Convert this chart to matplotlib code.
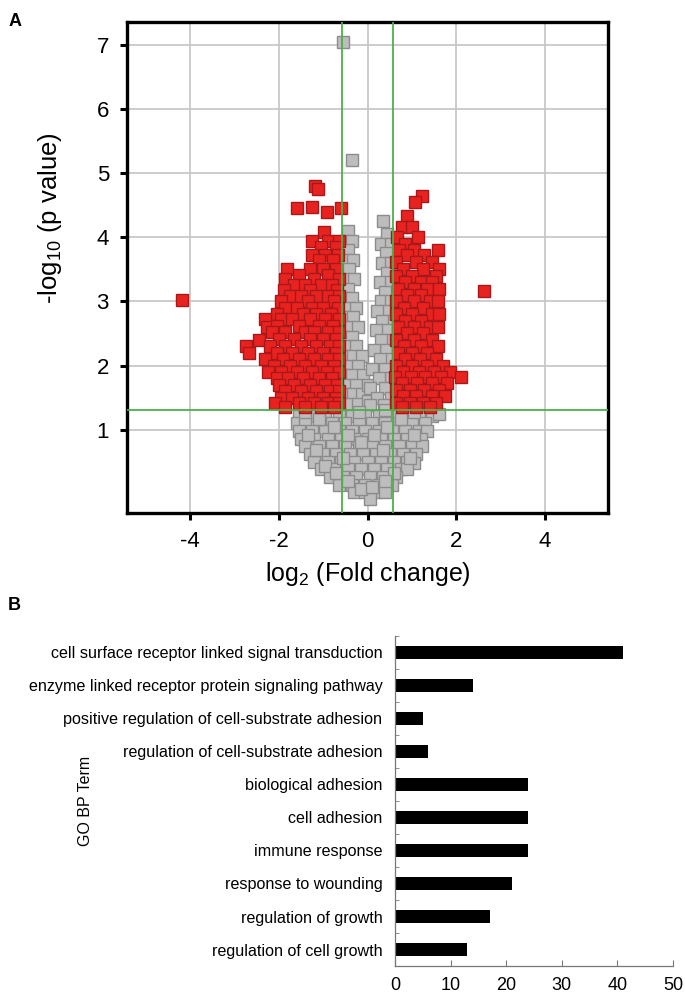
import matplotlib
matplotlib.use("Agg")
import matplotlib.pyplot as plt

plt.rcParams['font.family'] = ['Liberation Sans', 'DejaVu Sans']
plt.rcParams['axes.unicode_minus'] = False
plt.rcParams['mathtext.fontset'] = 'custom'
plt.rcParams['mathtext.rm'] = 'Liberation Sans'
plt.rcParams['mathtext.it'] = 'Liberation Sans:italic'
plt.rcParams['mathtext.bf'] = 'Liberation Sans:bold'

# volcano plot points, (log2 FC, -log10 p)
red_pts = [
    (-4.19, 3.03), (2.63, 3.16),
    # left cluster
    (-1.19, 4.80), (-1.12, 4.76), (-1.58, 4.45), (-1.26, 4.47), (-0.60, 4.45), (-0.92, 4.40),
    (-0.97, 4.08), (-1.24, 3.95), (-0.90, 3.95), (-0.64, 3.95), (-1.05, 3.85), (-0.72, 3.85),
    (-1.26, 3.73), (-0.95, 3.73), (-0.66, 3.73), (-1.10, 3.65), (-0.78, 3.65),
    (-1.82, 3.50), (-1.30, 3.50), (-1.00, 3.50), (-0.70, 3.50), (-1.55, 3.42), (-0.88, 3.42),
    (-1.85, 3.35), (-1.20, 3.35), (-0.64, 3.35), (-1.65, 3.25), (-1.40, 3.25), (-1.05, 3.25), (-0.80, 3.25),
    (-1.88, 3.18), (-1.30, 3.18), (-0.68, 3.18), (-1.75, 3.08), (-1.50, 3.08), (-1.15, 3.08), (-0.90, 3.08), (-0.64, 3.08),
    (-1.95, 3.00), (-1.35, 3.00), (-0.75, 3.00), (-1.85, 2.90), (-1.60, 2.90), (-1.25, 2.90), (-1.00, 2.90), (-0.66, 2.90),
    (-2.05, 2.80), (-1.45, 2.80), (-1.15, 2.80), (-0.82, 2.80),
    (-2.32, 2.72), (-1.94, 2.72), (-1.70, 2.72), (-1.30, 2.72), (-0.95, 2.72), (-0.65, 2.72),
    (-2.27, 2.60), (-2.05, 2.62), (-1.55, 2.62), (-1.10, 2.62), (-0.78, 2.62),
    (-2.45, 2.40), (-2.15, 2.52), (-1.85, 2.52), (-1.40, 2.52), (-1.20, 2.52), (-0.90, 2.52), (-0.64, 2.52),
    (-2.00, 2.42), (-1.65, 2.42), (-1.30, 2.42), (-1.00, 2.42), (-0.72, 2.42),
    (-2.73, 2.30), (-2.20, 2.30), (-1.85, 2.30), (-1.50, 2.30), (-1.15, 2.30), (-0.85, 2.30), (-0.64, 2.30),
    (-2.66, 2.20), (-2.05, 2.20), (-1.70, 2.20), (-1.35, 2.20), (-1.00, 2.20), (-0.70, 2.20),
    (-2.30, 2.10), (-1.90, 2.10), (-1.55, 2.10), (-1.20, 2.10), (-0.88, 2.10), (-0.64, 2.10),
    (-2.10, 2.00), (-1.75, 2.00), (-1.40, 2.00), (-1.05, 2.00), (-0.75, 2.00),
    (-2.25, 1.90), (-1.95, 1.90), (-1.60, 1.90), (-1.25, 1.90), (-0.92, 1.90), (-0.65, 1.90),
    (-2.05, 1.80), (-1.80, 1.80), (-1.45, 1.80), (-1.10, 1.80), (-0.80, 1.80),
    (-2.00, 1.70), (-1.65, 1.70), (-1.30, 1.70), (-0.95, 1.70), (-0.68, 1.70),
    (-1.85, 1.60), (-1.50, 1.60), (-1.15, 1.60), (-0.85, 1.60), (-0.64, 1.60),
    (-1.95, 1.50), (-1.70, 1.50), (-1.35, 1.50), (-1.00, 1.50), (-0.72, 1.50),
    (-2.09, 1.42), (-1.55, 1.42), (-1.20, 1.42), (-0.88, 1.42), (-0.65, 1.42),
    (-1.85, 1.35), (-1.40, 1.35), (-1.05, 1.35), (-0.75, 1.35),
    # right cluster
    (1.22, 4.64), (1.06, 4.55), (0.90, 4.33), (0.77, 4.16), (1.01, 4.16), (0.66, 4.00), (1.13, 4.00),
    (0.85, 3.90), (0.70, 3.80), (1.05, 3.80), (1.58, 3.80), (1.28, 3.72), (0.88, 3.72),
    (0.65, 3.62), (1.10, 3.62), (1.45, 3.62), (0.80, 3.50), (1.25, 3.50), (1.62, 3.50),
    (0.65, 3.40), (1.00, 3.40), (1.55, 3.40), (0.85, 3.30), (1.20, 3.30), (1.45, 3.30),
    (0.68, 3.20), (1.05, 3.20), (1.35, 3.20), (1.62, 3.20), (0.90, 3.10), (1.20, 3.10),
    (0.65, 3.00), (1.05, 3.00), (1.40, 3.00), (1.60, 3.00), (0.82, 2.90), (1.25, 2.90),
    (0.65, 2.80), (1.00, 2.80), (1.45, 2.80), (1.62, 2.80), (0.85, 2.70), (1.20, 2.70),
    (0.68, 2.60), (1.05, 2.60), (1.40, 2.60), (1.60, 2.60), (0.90, 2.50), (1.25, 2.50),
    (0.65, 2.40), (1.05, 2.40), (1.45, 2.40), (0.82, 2.30), (1.20, 2.30), (1.60, 2.30),
    (0.68, 2.20), (1.00, 2.20), (1.35, 2.20), (0.85, 2.10), (1.18, 2.10), (1.55, 2.10),
    (0.65, 2.00), (1.00, 2.00), (1.35, 2.00), (1.70, 2.00),
    (0.80, 1.90), (1.15, 1.90), (1.50, 1.90), (1.85, 1.90),
    (0.62, 1.82), (0.98, 1.82), (1.30, 1.82), (1.65, 1.82), (2.10, 1.82),
    (0.78, 1.72), (1.12, 1.72), (1.45, 1.72), (1.80, 1.72),
    (0.65, 1.62), (0.95, 1.62), (1.28, 1.62), (1.62, 1.62),
    (0.80, 1.52), (1.10, 1.52), (1.45, 1.52), (1.75, 1.52),
    (0.65, 1.42), (0.95, 1.42), (1.25, 1.42), (1.55, 1.42),
    (0.78, 1.35), (1.10, 1.35), (1.40, 1.35),
]

grey_pts = [
    (-0.55, 7.05), (-0.36, 5.20),
    # left stripe between the cut-offs
    (-0.45, 4.10), (-0.52, 3.95), (-0.35, 3.95), (-0.45, 3.80), (-0.50, 3.65), (-0.32, 3.65),
    (-0.42, 3.50), (-0.52, 3.35), (-0.30, 3.35), (-0.45, 3.20), (-0.55, 3.05), (-0.35, 3.05),
    (-0.42, 2.90), (-0.25, 2.90), (-0.52, 2.75), (-0.32, 2.75), (-0.45, 2.60), (-0.22, 2.60),
    (-0.55, 2.45), (-0.35, 2.45), (-0.45, 2.30), (-0.25, 2.30), (-0.52, 2.15), (-0.32, 2.15), (-0.12, 2.15),
    (-0.45, 2.00), (-0.22, 2.00), (-0.55, 1.85), (-0.35, 1.85), (-0.10, 1.85), (-0.45, 1.70), (-0.25, 1.70),
    (-0.52, 1.55), (-0.32, 1.55), (-0.12, 1.55), (-0.45, 1.40), (-0.22, 1.40), (0.00, 1.70), (0.00, 1.45),
    # right stripe
    (0.34, 4.25), (0.45, 4.05), (0.30, 3.90), (0.52, 3.90), (0.42, 3.75), (0.32, 3.60), (0.52, 3.60),
    (0.45, 3.45), (0.28, 3.30), (0.52, 3.30), (0.40, 3.15), (0.30, 3.00), (0.52, 3.00),
    (0.42, 2.85), (0.22, 2.85), (0.52, 2.70), (0.32, 2.70), (0.42, 2.55), (0.20, 2.55),
    (0.52, 2.40), (0.30, 2.40), (0.42, 2.25), (0.15, 2.25), (0.52, 2.10), (0.28, 2.10),
    (0.40, 1.95), (0.10, 1.95), (0.52, 1.80), (0.25, 1.80), (0.40, 1.65), (0.05, 1.65),
    (0.52, 1.50), (0.22, 1.50), (0.38, 1.38), (0.05, 1.38),
    # below the p cut-off
    (-1.55, 1.22), (-1.25, 1.22), (-0.95, 1.22), (-0.65, 1.22), (-0.35, 1.22), (-0.05, 1.22),
    (0.25, 1.22), (0.55, 1.22), (0.85, 1.22), (1.15, 1.22), (1.45, 1.22), (1.62, 1.24),
    (-1.60, 1.10), (-1.40, 1.10), (-1.10, 1.10), (-0.80, 1.10), (-0.50, 1.10), (-0.20, 1.10),
    (0.10, 1.10), (0.40, 1.10), (0.70, 1.10), (1.00, 1.10), (1.30, 1.10),
    (-1.55, 0.98), (-1.25, 0.98), (-0.95, 0.98), (-0.65, 0.98), (-0.35, 0.98), (-0.05, 0.98),
    (0.25, 0.98), (0.55, 0.98), (0.85, 0.98), (1.15, 0.98), (1.35, 0.98),
    (-1.50, 0.86), (-1.20, 0.86), (-0.90, 0.86), (-0.60, 0.86), (-0.30, 0.86), (0.00, 0.86),
    (0.30, 0.86), (0.60, 0.86), (0.90, 0.86), (1.20, 0.86),
    (-1.40, 0.74), (-1.10, 0.74), (-0.80, 0.74), (-0.50, 0.74), (-0.20, 0.74), (0.10, 0.74),
    (0.40, 0.74), (0.70, 0.74), (1.00, 0.74), (1.22, 0.74),
    (-1.30, 0.62), (-1.00, 0.62), (-0.70, 0.62), (-0.40, 0.62), (-0.10, 0.62), (0.20, 0.62),
    (0.50, 0.62), (0.80, 0.62), (1.10, 0.62),
    (-1.20, 0.50), (-0.90, 0.50), (-0.60, 0.50), (-0.30, 0.50), (0.00, 0.50), (0.30, 0.50),
    (0.60, 0.50), (0.90, 0.50), (1.05, 0.48),
    (-1.05, 0.38), (-0.75, 0.38), (-0.45, 0.38), (-0.15, 0.38), (0.15, 0.38), (0.45, 0.38), (0.75, 0.38), (0.90, 0.38),
    (-0.85, 0.26), (-0.55, 0.26), (-0.25, 0.26), (0.05, 0.26), (0.35, 0.26), (0.65, 0.26),
    (-0.65, 0.14), (-0.35, 0.14), (-0.05, 0.14), (0.25, 0.14), (0.55, 0.14),
    (-0.30, 0.03), (-0.05, 0.03), (0.20, 0.03), (0.40, 0.03), (0.05, -0.08),
    # extra overlap in the lower cloud
    (-1.40, 1.28), (-1.10, 1.16), (-0.75, 1.04), (-0.45, 0.92), (-0.15, 0.80), (0.15, 0.92),
    (0.45, 1.04), (0.75, 1.16), (1.05, 1.28), (-1.35, 0.92), (1.05, 0.92), (-1.15, 0.68),
    (0.95, 0.56), (-0.95, 0.44), (0.60, 0.32), (-0.70, 0.32), (-0.45, 0.20), (0.40, 0.20),
    (-0.15, 0.08), (0.10, 0.10), (-0.55, 0.56), (0.35, 0.68), (-0.20, 1.28), (0.40, 1.30),
]

fc_cut = 0.585
p_cut = 1.301

go_terms = [
    "cell surface receptor linked signal transduction",
    "enzyme linked receptor protein signaling pathway",
    "positive regulation of cell-substrate adhesion",
    "regulation of cell-substrate adhesion",
    "biological adhesion",
    "cell adhesion",
    "immune response",
    "response to wounding",
    "regulation of growth",
    "regulation of cell growth",
]
go_counts = [41, 14, 5, 6, 24, 24, 24, 21, 17, 13]

fig = plt.figure(figsize=(6.85, 9.98), dpi=100)

# ---- panel A: volcano
ax = fig.add_axes([0.1854, 0.486, 0.7022, 0.492])
ax.set_xlim(-5.42, 5.42)
ax.set_ylim(-0.3, 7.36)
ax.set_xticks([-4, -2, 0, 2, 4])
ax.set_yticks([1, 2, 3, 4, 5, 6, 7])
ax.grid(True, color='#c8c8c8', linewidth=1.3)
ax.set_axisbelow(True)

gx, gy = zip(*grey_pts)
rx, ry = zip(*red_pts)
ax.plot(gx, gy, 's', ms=8.6, mfc='#bdbdbd', mec='#8c8c8c', mew=1.0, zorder=3)
ax.plot(rx, ry, 's', ms=8.6, mfc='#e8231f', mec='#a8181a', mew=1.0, zorder=4)

ax.axvline(-fc_cut, color='#4cb04a', lw=1.3, zorder=5)
ax.axvline(fc_cut, color='#4cb04a', lw=1.3, zorder=5)
ax.axhline(p_cut, color='#4cb04a', lw=1.3, zorder=5)

for s in ax.spines.values():
    s.set_linewidth(2.4)
ax.tick_params(width=2.2, length=5, labelsize=16, pad=8)
ax.set_xlabel("log$_2$ (Fold change)", fontsize=18, labelpad=6)
ax.set_ylabel("-log$_{10}$ (p value)", fontsize=18.5)
ax.yaxis.set_label_coords(-0.13, 0.6)
fig.text(0.012, 0.978, "A", fontsize=13, fontweight='bold', va='center')

# ---- panel B: GO terms
bx = fig.add_axes([0.5766, 0.032, 0.406, 0.331])
pos = list(range(len(go_terms)))
bx.barh(pos, go_counts, height=0.38, color='black')
bx.set_ylim(len(go_terms) - 0.5, -0.5)
bx.set_xlim(0, 50)
bx.set_xticks([0, 10, 20, 30, 40, 50])
bx.set_yticks(pos)
bx.set_yticklabels(go_terms, fontsize=11.6)
bx.set_yticks([p + 0.5 for p in pos[:-1]] + [-0.5], minor=True)
bx.tick_params(axis='y', which='major', length=0, pad=9)
bx.tick_params(axis='y', which='minor', direction='in', length=3, color='#777777')
bx.tick_params(axis='x', direction='in', length=4, color='#777777', labelsize=13, pad=8)
for side in ['top', 'right']:
    bx.spines[side].set_visible(False)
for side in ['left', 'bottom']:
    bx.spines[side].set_color('#777777')
    bx.spines[side].set_linewidth(0.9)
fig.text(0.125, 0.197, "GO BP Term", rotation=90, fontsize=11.5, va='center', ha='center')
fig.text(0.012, 0.393, "B", fontsize=13, fontweight='bold', va='center')

fig.savefig("out.png", dpi=100)
